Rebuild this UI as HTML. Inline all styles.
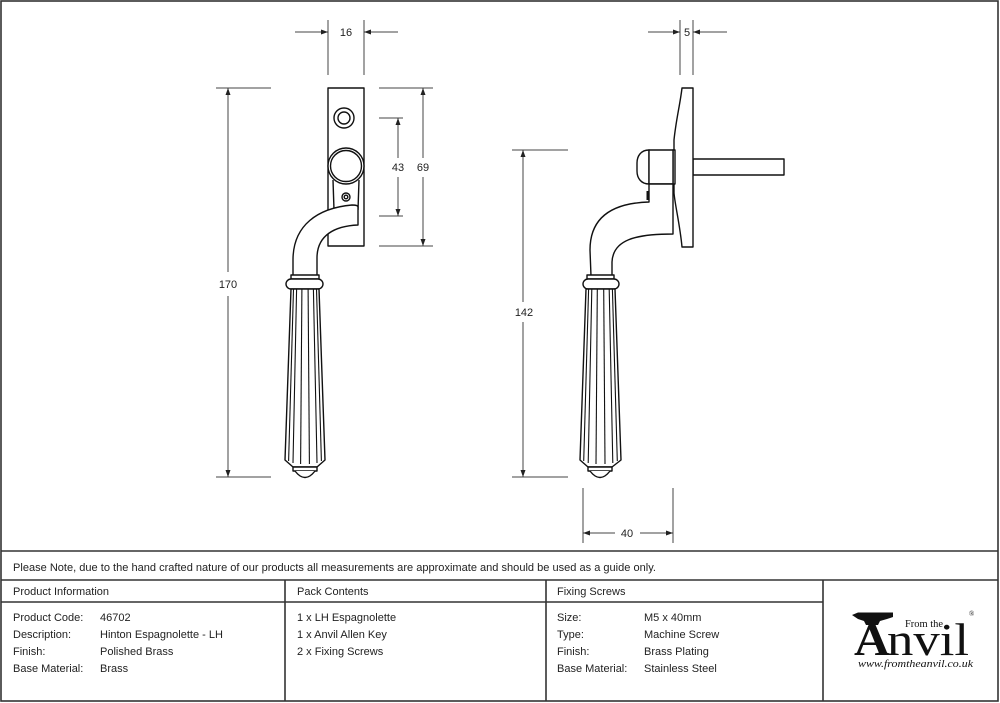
<!DOCTYPE html>
<html><head><meta charset="utf-8"><style>
html,body{margin:0;padding:0;background:#fff;}
svg{display:block;}
.t{font-family:"Liberation Sans",sans-serif;font-size:11px;fill:#222;}
.d{font-family:"Liberation Sans",sans-serif;font-size:11px;fill:#222;text-anchor:middle;}
</style></head><body>
<svg width="1000" height="703" viewBox="0 0 1000 703" xmlns="http://www.w3.org/2000/svg">
<rect x="0" y="0" width="1000" height="703" fill="#fff"/>
<!-- frame & table -->
<g stroke="#333" stroke-width="1.6" fill="none">
<rect x="1" y="1" width="997" height="700"/>
<line x1="1" y1="551" x2="998" y2="551"/>
<line x1="1" y1="580" x2="998" y2="580"/>
<line x1="1" y1="602" x2="823" y2="602"/>
<line x1="285" y1="580" x2="285" y2="701"/>
<line x1="546" y1="580" x2="546" y2="701"/>
<line x1="823" y1="580" x2="823" y2="701"/>
</g>
<text class="t" x="13" y="571" textLength="643" lengthAdjust="spacingAndGlyphs">Please Note, due to the hand crafted nature of our products all measurements are approximate and should be used as a guide only.</text>
<text class="t" x="13" y="595">Product Information</text>
<text class="t" x="297" y="595">Pack Contents</text>
<text class="t" x="557" y="595">Fixing Screws</text>
<text class="t" x="13" y="621">Product Code:</text>
<text class="t" x="13" y="638">Description:</text>
<text class="t" x="13" y="655">Finish:</text>
<text class="t" x="13" y="672">Base Material:</text>
<text class="t" x="100" y="621">46702</text>
<text class="t" x="100" y="638">Hinton Espagnolette - LH</text>
<text class="t" x="100" y="655">Polished Brass</text>
<text class="t" x="100" y="672">Brass</text>
<text class="t" x="297" y="621">1 x LH Espagnolette</text>
<text class="t" x="297" y="638">1 x Anvil Allen Key</text>
<text class="t" x="297" y="655">2 x Fixing Screws</text>
<text class="t" x="557" y="621">Size:</text>
<text class="t" x="557" y="638">Type:</text>
<text class="t" x="557" y="655">Finish:</text>
<text class="t" x="557" y="672">Base Material:</text>
<text class="t" x="644" y="621">M5 x 40mm</text>
<text class="t" x="644" y="638">Machine Screw</text>
<text class="t" x="644" y="655">Brass Plating</text>
<text class="t" x="644" y="672">Stainless Steel</text>
<!-- logo -->
<polygon points="852,615 858,612.5 893,612.5 893,617 887,619 880,621 878,625 866,625 864,621 858,619" fill="#111"/>
<text x="854" y="655" font-family="Liberation Serif,serif" font-weight="bold" font-size="46" textLength="36" lengthAdjust="spacingAndGlyphs" fill="#111">A</text>
<text x="887" y="655" font-family="Liberation Serif,serif" font-size="46" textLength="82" lengthAdjust="spacingAndGlyphs" fill="#111">nvil</text>
<text x="905" y="627" font-family="Liberation Serif,serif" font-size="11" textLength="38" lengthAdjust="spacingAndGlyphs" fill="#111">From the</text>
<text x="969" y="616" font-family="Liberation Serif,serif" font-size="7" fill="#111">®</text>
<text x="858" y="667" font-family="Liberation Serif,serif" font-style="italic" font-size="10.5" textLength="115" lengthAdjust="spacingAndGlyphs" fill="#111">www.fromtheanvil.co.uk</text>

<!-- dimension lines -->
<g stroke="#444" stroke-width="1" fill="none">
<line x1="328" y1="20" x2="328" y2="75"/><line x1="364" y1="20" x2="364" y2="75"/>
<line x1="295" y1="32" x2="328" y2="32"/><line x1="364" y1="32" x2="398" y2="32"/>
<line x1="680" y1="20" x2="680" y2="75"/><line x1="693" y1="20" x2="693" y2="75"/>
<line x1="648" y1="32" x2="680" y2="32"/><line x1="693" y1="32" x2="727" y2="32"/>
<line x1="216" y1="88" x2="271" y2="88"/><line x1="216" y1="477" x2="271" y2="477"/>
<line x1="228" y1="88" x2="228" y2="272"/><line x1="228" y1="296" x2="228" y2="477"/>
<line x1="379" y1="118" x2="403" y2="118"/><line x1="379" y1="216" x2="403" y2="216"/>
<line x1="398" y1="118" x2="398" y2="158"/><line x1="398" y1="177" x2="398" y2="216"/>
<line x1="379" y1="88" x2="433" y2="88"/><line x1="379" y1="246" x2="433" y2="246"/>
<line x1="423" y1="88" x2="423" y2="158"/><line x1="423" y1="177" x2="423" y2="246"/>
<line x1="512" y1="150" x2="568" y2="150"/><line x1="512" y1="477" x2="568" y2="477"/>
<line x1="523" y1="150" x2="523" y2="302"/><line x1="523" y1="322" x2="523" y2="477"/>
<line x1="583" y1="488" x2="583" y2="543"/><line x1="673" y1="488" x2="673" y2="543"/>
<line x1="583" y1="533" x2="615" y2="533"/><line x1="640" y1="533" x2="673" y2="533"/>
</g>
<g fill="#222">
<polygon points="328,32 321,29.5 321,34.5"/><polygon points="364,32 371,29.5 371,34.5"/>
<polygon points="680,32 673,29.5 673,34.5"/><polygon points="693,32 700,29.5 700,34.5"/>
<polygon points="228,88 225.5,95 230.5,95"/><polygon points="228,477 225.5,470 230.5,470"/>
<polygon points="398,118 395.5,125 400.5,125"/><polygon points="398,216 395.5,209 400.5,209"/>
<polygon points="423,88 420.5,95 425.5,95"/><polygon points="423,246 420.5,239 425.5,239"/>
<polygon points="523,150 520.5,157 525.5,157"/><polygon points="523,477 520.5,470 525.5,470"/>
<polygon points="583,533 590,530.5 590,535.5"/><polygon points="673,533 666,530.5 666,535.5"/>
</g>
<text class="d" x="346" y="36">16</text>
<text class="d" x="687" y="36">5</text>
<text class="d" x="228" y="288">170</text>
<text class="d" x="398" y="171">43</text>
<text class="d" x="423" y="171">69</text>
<text class="d" x="524" y="316">142</text>
<text class="d" x="627" y="537">40</text>

<!-- FRONT VIEW -->
<g stroke="#111" stroke-width="1.4" fill="#fff" stroke-linejoin="round">
<rect x="328" y="88" width="36" height="158"/>
<circle cx="344" cy="118" r="10"/>
<circle cx="344" cy="118" r="6"/>
<line x1="333" y1="180" x2="334" y2="210"/>
<line x1="359" y1="180" x2="358" y2="210"/>
<circle cx="346" cy="166" r="18"/>
<circle cx="346" cy="166" r="15.5"/>
<circle cx="346" cy="197" r="4"/>
<circle cx="346" cy="197" r="1.8"/>
<path d="M358,207 Q358,205 352,205 C318,208 293,225 293,260 L293,276 L317,276 L317,258 C317,235 335,226 358,225 Z"/>
<rect x="291" y="275" width="28" height="4"/>
<rect x="286" y="279" width="37" height="10" rx="5"/>
<path d="M291,289 L319,289 L325,460 L317,467 L293,467 L285,460 Z"/>
<rect x="293" y="467" width="24" height="4"/>
<path d="M295,471 Q305,484 315,471"/>
</g>
<g stroke="#111" stroke-width="1.1" fill="none">
<line x1="293.5" y1="289" x2="288.6" y2="461"/>
<line x1="296.6" y1="289" x2="293" y2="463"/>
<line x1="301.9" y1="289" x2="300.6" y2="464"/>
<line x1="308.1" y1="289" x2="309.4" y2="464"/>
<line x1="313.4" y1="289" x2="317" y2="463"/>
<line x1="316.5" y1="289" x2="321.4" y2="461"/>
</g>

<!-- SIDE VIEW -->
<g stroke="#111" stroke-width="1.4" fill="#fff" stroke-linejoin="round">
<rect x="693" y="159" width="91" height="16"/>
<path d="M682,88 L693,88 L693,247 L682,247 C680,225 675,205 674,193 L674,140 C676,120 680,105 682,88 Z"/>
<rect x="673" y="150" width="2" height="34"/>
<path d="M649,150 C641,150 637,156 637,163 L637,171 C637,178 641,184 649,184 Z"/>
<rect x="649" y="150" width="24" height="34"/>
<path d="M649,184 L649,202 C615,203 590,215 590,250 L591,276 L612,276 L612,262 C613,240 635,234 673,234 L673,184 Z"/>
<rect x="587" y="275" width="27" height="4"/>
<rect x="583" y="279" width="36" height="10" rx="5"/>
<path d="M586,289 L615,289 L621,460 L612,467 L588,467 L580,460 Z"/>
<rect x="588" y="467" width="24" height="4"/>
<path d="M590,471 Q600,484 610,471"/>
</g>
<rect x="646.5" y="191" width="2.5" height="9" fill="#111"/>
<g stroke="#111" stroke-width="1.1" fill="none">
<line x1="588.6" y1="289" x2="583.7" y2="461"/>
<line x1="591.8" y1="289" x2="588.2" y2="463"/>
<line x1="597.3" y1="289" x2="596" y2="464"/>
<line x1="603.7" y1="289" x2="605" y2="464"/>
<line x1="609.2" y1="289" x2="612.8" y2="463"/>
<line x1="612.4" y1="289" x2="617.3" y2="461"/>
</g>
</svg>
</body></html>
